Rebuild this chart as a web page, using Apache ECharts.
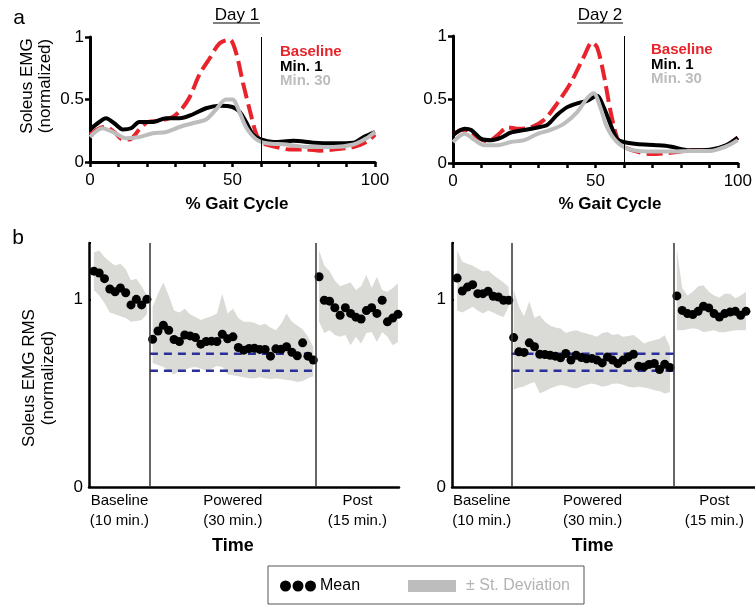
<!DOCTYPE html>
<html>
<head>
<meta charset="utf-8">
<script src="https://cdn.jsdelivr.net/npm/echarts@6.0.0/dist/echarts.min.js"></script>
<style>
html, body { margin: 0; padding: 0; background: #fff; }
#chart { width: 755px; height: 606px; }
</style>
</head>
<body>
<div id="chart"></div>
<script>
// ---- panel a: soleus EMG over the gait cycle, [% gait cycle, normalized EMG]
var day1Baseline = [[0,0.22],[3.3,0.27],[5.6,0.28],[8.5,0.24],[11.5,0.18],[13.8,0.18],[17.3,0.26],[20.3,0.32],[24.4,0.33],[29,0.36],[32,0.42],[35,0.52],[38.4,0.70],[42,0.83],[45.5,0.95],[49,0.98],[51.3,0.87],[53.7,0.63],[56,0.42],[58.4,0.22],[60.7,0.15],[65.4,0.12],[70,0.1],[76,0.1],[80.7,0.09],[85.4,0.1],[92.4,0.12],[97,0.16],[100,0.22]];
var day1Min1 = [[0,0.26],[3.3,0.32],[5.6,0.35],[8.5,0.31],[11.5,0.26],[14.4,0.27],[17.3,0.32],[22,0.32],[26.7,0.35],[31.4,0.35],[36,0.38],[40.7,0.43],[45.5,0.45],[50,0.44],[52.6,0.4],[55,0.31],[57.2,0.22],[60,0.18],[64.4,0.16],[71.4,0.17],[78.4,0.155],[85.4,0.15],[92.4,0.155],[96,0.2],[100,0.24]];
var day1Min30 = [[0,0.2],[4.4,0.27],[8,0.24],[12.6,0.19],[17.3,0.2],[22,0.23],[26.7,0.24],[31.4,0.28],[36,0.31],[40.7,0.34],[44.2,0.42],[47.7,0.5],[50,0.5],[52.6,0.39],[55,0.27],[58.4,0.18],[62,0.15],[69,0.14],[76,0.12],[85.4,0.12],[92.4,0.14],[97,0.19],[100,0.24]];
var day2Baseline = [[0,0.22],[2.9,0.26],[5.2,0.26],[8.7,0.2],[12.2,0.17],[15.7,0.22],[19.2,0.28],[22.7,0.27],[27.3,0.28],[32,0.34],[36.6,0.47],[41.3,0.63],[46,0.84],[48.8,0.95],[50.6,0.91],[52.9,0.7],[55.2,0.42],[57.6,0.2],[59.9,0.13],[64.5,0.09],[69.2,0.07],[76.2,0.08],[83.1,0.1],[90.1,0.1],[95.9,0.14],[100,0.2]];
var day2Min1 = [[0,0.22],[4.1,0.27],[6.4,0.26],[9.9,0.19],[13.4,0.18],[16.9,0.2],[20.3,0.24],[25,0.26],[29.7,0.28],[33.1,0.3],[36.6,0.38],[40.1,0.44],[43.6,0.47],[47.1,0.49],[50.6,0.53],[52.9,0.44],[55.2,0.31],[57.6,0.19],[59.9,0.165],[64.5,0.15],[71.5,0.14],[76.2,0.13],[83.1,0.1],[90.1,0.105],[95.9,0.14],[100,0.2]];
var day2Min30 = [[0,0.165],[4.1,0.23],[7.6,0.18],[11,0.14],[15.7,0.14],[20.3,0.165],[25,0.18],[29.7,0.23],[34.3,0.26],[39,0.31],[43.6,0.4],[47.1,0.51],[49.4,0.55],[51.7,0.44],[54.1,0.28],[57.6,0.165],[62.2,0.105],[69.2,0.09],[76.2,0.09],[83.1,0.095],[90.1,0.095],[95.9,0.13],[100,0.18]];
var stanceEnd = 60;

// ---- panel b: soleus EMG RMS per minute (mean, upper / lower st. deviation)
var sectionEdges = [0, 11.2, 41.7, 57];   // time axis, minutes
var sectionNames = ['Baseline\n(10 min.)', 'Powered\n(30 min.)', 'Post\n(15 min.)'];
var targetHigh = 0.71, targetLow = 0.62;

var d1BaseMean = [1.15,1.14,1.11,1.055,1.04,1.06,1.035,0.97,1.0,0.97,1.0];
var d1BaseUp   = [1.25,1.26,1.225,1.2,1.18,1.19,1.16,1.1,1.11,1.07,1.02];
var d1BaseLo   = [1.05,1.02,0.98,0.93,0.92,0.91,0.9,0.88,0.885,0.89,0.92];
var d1PowMean  = [0.787,0.831,0.862,0.835,0.786,0.775,0.81,0.805,0.796,0.761,0.775,0.777,0.775,0.814,0.79,0.8,0.743,0.729,0.738,0.739,0.733,0.733,0.697,0.736,0.734,0.747,0.718,0.699,0.768,0.697,0.676];
var d1PowUp    = [0.96,1.03,1.09,1.02,0.94,0.93,0.95,0.92,0.906,0.89,0.9,0.91,0.925,1.03,0.924,0.95,0.9,0.88,0.88,0.875,0.862,0.87,0.85,0.835,0.87,0.924,0.88,0.86,0.84,0.8,0.746];
var d1PowLo    = [0.66,0.65,0.64,0.62,0.6,0.62,0.625,0.635,0.64,0.63,0.62,0.63,0.645,0.64,0.6,0.595,0.59,0.585,0.58,0.578,0.585,0.58,0.575,0.578,0.575,0.57,0.567,0.56,0.565,0.58,0.59];
var d1PostMean = [1.12,0.995,0.99,0.955,0.915,0.955,0.925,0.905,0.895,0.94,0.955,0.925,0.995,0.88,0.9,0.92];
var d1PostUp   = [1.26,1.18,1.15,1.1,1.07,1.08,1.09,1.05,1.07,1.13,1.06,1.12,1.05,1.04,1.06,1.085];
var d1PostLo   = [0.88,0.82,0.835,0.81,0.8,0.81,0.755,0.8,0.765,0.82,0.826,0.773,0.826,0.8,0.755,0.773];

var d2BaseMean = [1.113,1.044,1.065,1.078,1.03,1.03,1.043,1.016,1.012,0.995,0.995];
var d2BaseUp   = [1.26,1.2,1.19,1.18,1.163,1.15,1.154,1.13,1.11,1.09,1.065];
var d2BaseLo   = [0.94,0.93,0.945,0.96,0.94,0.924,0.94,0.93,0.915,0.906,0.96];
var d2PowMean  = [0.796,0.72,0.717,0.768,0.747,0.707,0.706,0.702,0.697,0.688,0.711,0.676,0.702,0.69,0.683,0.685,0.676,0.661,0.693,0.676,0.658,0.676,0.693,0.707,0.644,0.64,0.653,0.658,0.626,0.654,0.637];
var d2PowUp    = [1.05,0.96,0.91,0.99,0.9,0.915,0.88,0.86,0.85,0.844,0.82,0.83,0.835,0.825,0.818,0.81,0.8,0.82,0.826,0.81,0.815,0.8,0.805,0.81,0.79,0.764,0.775,0.782,0.79,0.808,0.746];
var d2PowLo    = [0.52,0.53,0.535,0.55,0.56,0.5,0.51,0.525,0.535,0.543,0.54,0.53,0.525,0.535,0.545,0.552,0.545,0.534,0.54,0.55,0.552,0.545,0.534,0.53,0.534,0.53,0.525,0.516,0.51,0.498,0.505];
var d2PostMean = [1.018,0.941,0.924,0.919,0.936,0.963,0.954,0.924,0.906,0.924,0.932,0.936,0.915,0.936];
var d2PostUp   = [1.27,1.06,1.02,1.04,1.07,1.075,1.04,1.02,1.01,1.03,1.03,1.005,1.02,1.04];
var d2PostLo   = [0.835,0.835,0.84,0.846,0.84,0.826,0.83,0.835,0.824,0.824,0.83,0.835,0.835,0.835];

var FONT = '"Liberation Sans", Arial, sans-serif';
var RED = '#e8232b', GREY = '#bdbdbd', BAND = '#dadad6', NAVY = '#2b2f9a';

// sample minute of the first point and spacing, per section
var day1Sections = [
    { start: 0.9, step: 0.975, mean: d1BaseMean, upper: d1BaseUp, lower: d1BaseLo },
    { start: 11.7, step: 0.985, mean: d1PowMean, upper: d1PowUp, lower: d1PowLo },
    { start: 42.3, step: 0.967, mean: d1PostMean, upper: d1PostUp, lower: d1PostLo }
];
var day2Sections = [
    { start: 0.97, step: 0.97, mean: d2BaseMean, upper: d2BaseUp, lower: d2BaseLo },
    { start: 11.6, step: 0.98, mean: d2PowMean, upper: d2PowUp, lower: d2PowLo },
    { start: 42.3, step: 1.0, mean: d2PostMean, upper: d2PostUp, lower: d2PostLo }
];
var sectionMids = [];
for (var k = 0; k < 3; k++) sectionMids.push((sectionEdges[k] + sectionEdges[k + 1]) / 2);

function gaitXAxis(grid) {
    return {
        type: 'value', gridIndex: grid, min: 0, max: 100, interval: 10,
        axisLine: { lineStyle: { color: '#000', width: 3 } },
        axisTick: { length: 5, lineStyle: { color: '#000', width: 2.5 } },
        axisLabel: {
            color: '#000', fontSize: 17, margin: 10, fontFamily: FONT,
            formatter: function (v) { return v % 50 === 0 ? String(v) : ''; }
        },
        splitLine: { show: false }
    };
}
function gaitYAxis(grid) {
    return {
        type: 'value', gridIndex: grid, min: 0, max: 1, interval: 0.5,
        axisLine: { show: true, lineStyle: { color: '#000', width: 3 } },
        axisTick: { show: true, length: 5, lineStyle: { color: '#000', width: 2.5 } },
        axisLabel: { color: '#000', fontSize: 17, margin: 6, fontFamily: FONT },
        splitLine: { show: false }
    };
}
function timeXAxis(grid) {
    return {
        type: 'value', gridIndex: grid, min: sectionEdges[0], max: sectionEdges[3],
        axisLine: { lineStyle: { color: '#000', width: 2.5 } },
        axisTick: { show: false },
        axisLabel: {
            customValues: sectionMids, color: '#000', fontSize: 15, lineHeight: 20,
            margin: 4, fontFamily: FONT,
            formatter: function (v) {
                var best = 0;
                for (var i = 1; i < sectionMids.length; i++) {
                    if (Math.abs(sectionMids[i] - v) < Math.abs(sectionMids[best] - v)) best = i;
                }
                return sectionNames[best];
            }
        },
        splitLine: { show: false }
    };
}
function rmsYAxis(grid) {
    return {
        type: 'value', gridIndex: grid, min: 0, max: 1.3, interval: 1,
        axisLine: { show: true, lineStyle: { color: '#000', width: 2.5 } },
        axisTick: { show: true, inside: true, length: 2, lineStyle: { color: '#000', width: 2 } },
        axisLabel: {
            color: '#000', fontSize: 17, margin: 6, fontFamily: FONT,
            formatter: function (v) { return (v === 0 || v === 1) ? String(v) : ''; }
        },
        splitLine: { show: false }
    };
}

function gaitSeries(idx, base, min1, min30) {
    return [
        { type: 'line', xAxisIndex: idx, yAxisIndex: idx, data: base, smooth: 0.3, showSymbol: false,
          lineStyle: { color: RED, width: 4, type: [16, 6] }, z: 2 },
        { type: 'line', xAxisIndex: idx, yAxisIndex: idx, data: min1, smooth: 0.3, showSymbol: false,
          lineStyle: { color: '#000', width: 4 }, z: 3,
          markLine: { silent: true, symbol: 'none', label: { show: false },
                      lineStyle: { color: '#000', width: 1, type: 'solid' },
                      data: [{ xAxis: stanceEnd }] } },
        { type: 'line', xAxisIndex: idx, yAxisIndex: idx, data: min30, smooth: 0.3, showSymbol: false,
          lineStyle: { color: GREY, width: 4 }, z: 4 }
    ];
}

function rmsSeries(idx, sections) {
    var dots = [];
    sections.forEach(function (s) {
        s.mean.forEach(function (v, i) { dots.push([s.start + i * s.step, v]); });
    });
    var band = {
        type: 'custom', xAxisIndex: idx, yAxisIndex: idx, z: 1, silent: true,
        data: [[0, 0], [1, 0], [2, 0]],
        renderItem: function (params, api) {
            var s = sections[params.dataIndex];
            var top = [], bottom = [];
            for (var i = 0; i < s.upper.length; i++) {
                var x = s.start + i * s.step;
                top.push(api.coord([x, s.upper[i]]));
                bottom.unshift(api.coord([x, s.lower[i]]));
            }
            return { type: 'polygon', shape: { points: top.concat(bottom) }, style: { fill: BAND } };
        }
    };
    function target(v) {
        return { type: 'line', xAxisIndex: idx, yAxisIndex: idx, z: 2, showSymbol: false, silent: true,
                 data: [[sectionEdges[1], v], [sectionEdges[2], v]],
                 lineStyle: { color: NAVY, width: 2.5, type: [8, 6] } };
    }
    return [band, target(targetHigh), target(targetLow), {
        type: 'scatter', xAxisIndex: idx, yAxisIndex: idx, z: 3, data: dots,
        symbolSize: 9, itemStyle: { color: '#000', opacity: 1 },
        markLine: { silent: true, symbol: 'none', label: { show: false },
                    lineStyle: { color: '#333', width: 1.5, type: 'solid' },
                    data: [{ xAxis: sectionEdges[1] }, { xAxis: sectionEdges[2] }] }
    }];
}

function txt(x, y, s, opt) {
    var style = { text: s, x: x, y: y, fill: '#000', fontSize: 17, fontFamily: FONT,
                  align: 'center', verticalAlign: 'middle' };
    for (var key in opt) style[key] = opt[key];
    return { type: 'text', style: style, z: 10 };
}
function vtxt(x, y, s) {
    return { type: 'text', x: x, y: y, rotation: Math.PI / 2, z: 10,
             style: { text: s, fill: '#000', fontSize: 17, fontFamily: FONT, align: 'center', verticalAlign: 'middle' } };
}

var chart = echarts.init(document.getElementById('chart'));
var option = {
    animation: false,
    textStyle: { fontFamily: FONT },
    grid: [
        { left: 90, top: 37, width: 285, height: 125 },
        { left: 453, top: 36, width: 289, height: 127 },
        { left: 89, top: 243, width: 310, height: 244 },
        { left: 452, top: 243, width: 310, height: 244 }
    ],
    xAxis: [gaitXAxis(0), gaitXAxis(1), timeXAxis(2), timeXAxis(3)],
    yAxis: [gaitYAxis(0), gaitYAxis(1), rmsYAxis(2), rmsYAxis(3)],
    series: [].concat(
        gaitSeries(0, day1Baseline, day1Min1, day1Min30),
        gaitSeries(1, day2Baseline, day2Min1, day2Min30),
        rmsSeries(2, day1Sections),
        rmsSeries(3, day2Sections)
    )
};
chart.setOption(option);

// annotations
var g = [];
g.push(txt(19, 18, 'a', { fontSize: 21 }));
g.push(txt(18, 238, 'b', { fontSize: 21 }));
g.push(txt(237, 15, 'Day 1'));
g.push({ type: 'line', shape: { x1: 213, y1: 23, x2: 260, y2: 23 }, style: { stroke: '#000', lineWidth: 1 } });
g.push(txt(600, 15, 'Day 2'));
g.push({ type: 'line', shape: { x1: 577, y1: 23, x2: 623, y2: 23 }, style: { stroke: '#000', lineWidth: 1 } });
g.push(vtxt(27, 86, 'Soleus EMG'));
g.push(vtxt(45, 86, '(normalized)'));
g.push(vtxt(29, 378, 'Soleus EMG RMS'));
g.push(vtxt(48, 378, '(normalized)'));
g.push(txt(237, 204, '% Gait Cycle', { fontWeight: 'bold' }));
g.push(txt(610, 204, '% Gait Cycle', { fontWeight: 'bold' }));
[[280, 52], [651, 50]].forEach(function (p) {
    g.push(txt(p[0], p[1], 'Baseline', { align: 'left', fontWeight: 'bold', fontSize: 15, fill: RED }));
    g.push(txt(p[0], p[1] + 15, 'Min. 1', { align: 'left', fontWeight: 'bold', fontSize: 15, fill: '#000' }));
    g.push(txt(p[0], p[1] + 29, 'Min. 30', { align: 'left', fontWeight: 'bold', fontSize: 15, fill: GREY }));
});
[2, 3].forEach(function (gi) {
    var p = chart.convertToPixel({ gridIndex: gi }, [sectionMids[1], 0]);
    g.push(txt(p[0], 546, 'Time', { fontWeight: 'bold', fontSize: 18 }));
});
// bottom legend box
g.push({ type: 'rect', shape: { x: 268, y: 566, width: 316, height: 38 }, style: { fill: '#fff', stroke: '#555', lineWidth: 1 } });
[285.5, 298, 310.5].forEach(function (cx) {
    g.push({ type: 'circle', shape: { cx: cx, cy: 586, r: 5.5 }, style: { fill: '#000' }, z: 11 });
});
g.push(txt(320, 586, 'Mean', { align: 'left', fontSize: 16 }));
g.push({ type: 'rect', shape: { x: 408, y: 580, width: 48, height: 12 }, style: { fill: GREY }, z: 11 });
g.push(txt(466, 586, '± St. Deviation', { align: 'left', fontSize: 16, fill: '#b3b3b3' }));

chart.setOption({ graphic: g });
</script>
</body>
</html>
